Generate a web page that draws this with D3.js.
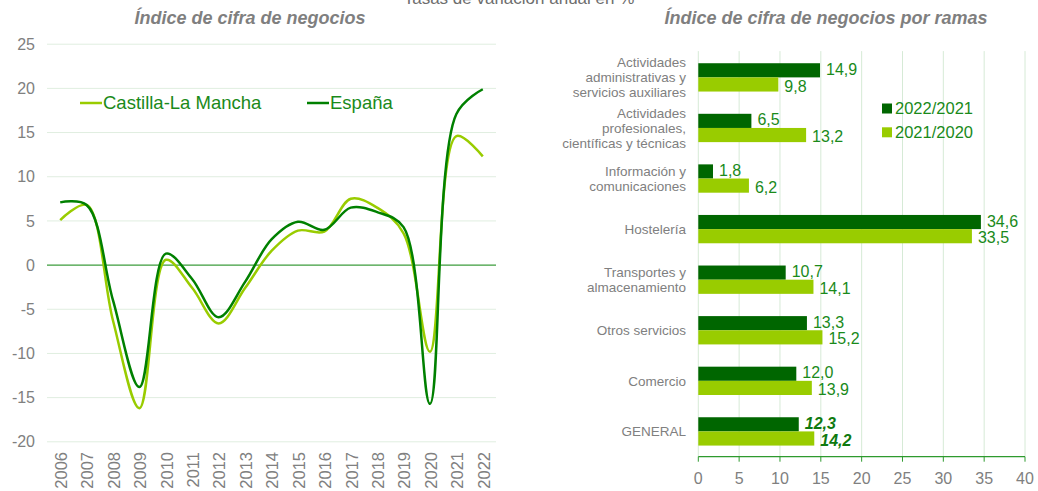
<!DOCTYPE html>
<html lang="es">
<head>
<meta charset="UTF-8">
<title>Índice de cifra de negocios</title>
<script src="https://cdnjs.cloudflare.com/ajax/libs/d3/7.8.5/d3.min.js"></script>
<style>
  body { margin: 0; background: #fff; }
  svg { display: block; font-family: "Liberation Sans", Arial, sans-serif; }
</style>
</head>
<body>
<svg id="chart" width="1038" height="491"></svg>
<script>
// ---- data ----
const years = ["2006","2007","2008","2009","2010","2011","2012","2013","2014","2015","2016","2017","2018","2019","2020","2021","2022"];
const clm    = [5.1, 6.8, -6.3, -16.2, 0.6, -2.6, -6.6, -2.6, 1.6, 3.9, 3.8, 7.5, 6.5, 3.6, -9.8, 14.6, 12.3];
const espana = [7.1, 6.8, -4.0, -13.8, 1.3, -1.6, -5.9, -1.9, 2.9, 4.9, 4.0, 6.5, 6.0, 4.3, -15.7, 17.1, 19.9];
const yTicks = [-20, -15, -10, -5, 0, 5, 10, 15, 20, 25];

const ramas = [
  ["Actividades", "administrativas y", "servicios auxiliares"],
  ["Actividades", "profesionales,", "científicas y técnicas"],
  ["Información y", "comunicaciones"],
  ["Hostelería"],
  ["Transportes y", "almacenamiento"],
  ["Otros servicios"],
  ["Comercio"],
  ["GENERAL"]
];
const v2022 = [14.9, 6.5, 1.8, 34.6, 10.7, 13.3, 12.0, 12.3];
const v2021 = [9.8, 13.2, 6.2, 33.5, 14.1, 15.2, 13.9, 14.2];
const xTicks = [0, 5, 10, 15, 20, 25, 30, 35, 40];

const dark = "#006600", light = "#99cc00", labelGreen = "#1a8a1a", grey = "#808080";
const svg = d3.select("#chart");

// top title (cut off in the original)
svg.append("text").attr("x", 519).attr("y", 4).attr("text-anchor", "middle")
  .attr("font-size", 17).attr("fill", "#6d6d6d").text("Tasas de variación anual en %");

// ---- left: line chart ----
const left = { x0: 47, x1: 496, y0: 44.2, y1: 441.8 };
const xL = d3.scaleBand().domain(years).range([left.x0, left.x1]);
const yL = d3.scaleLinear().domain([-20, 25]).range([left.y1, left.y0]);

svg.append("text").attr("x", 250).attr("y", 24).attr("text-anchor", "middle")
  .attr("font-size", 18).attr("font-weight", "bold").attr("font-style", "italic")
  .attr("fill", "#7f7f7f").text("Índice de cifra de negocios");

const gL = svg.append("g");
gL.selectAll("line.grid").data(yTicks.filter(d => d !== 0)).join("line")
  .attr("x1", left.x0).attr("x2", left.x1)
  .attr("y1", d => yL(d)).attr("y2", d => yL(d))
  .attr("stroke", "#e0eee0").attr("stroke-width", 1);
gL.append("line").attr("x1", left.x0).attr("x2", left.x1)
  .attr("y1", yL(0)).attr("y2", yL(0)).attr("stroke", "#3c9c3c").attr("stroke-width", 1.4);
gL.selectAll("text.ytick").data(yTicks).join("text")
  .attr("x", 35).attr("y", d => yL(d)).attr("dy", "0.35em").attr("text-anchor", "end")
  .attr("font-size", 16).attr("fill", grey).text(d => d);
gL.selectAll("text.xtick").data(years).join("text")
  .attr("transform", d => `translate(${xL(d) + xL.bandwidth() / 2 + 1},452) rotate(-90)`)
  .attr("dy", "0.35em").attr("text-anchor", "end")
  .attr("font-size", 16.5).attr("fill", grey).text(d => d);

const line = d3.line()
  .x((d, i) => xL(years[i]) + xL.bandwidth() / 2)
  .y(d => yL(d))
  .curve(d3.curveCatmullRom.alpha(0.5));
gL.append("path").datum(clm).attr("d", line).attr("fill", "none")
  .attr("stroke", light).attr("stroke-width", 2.5);
gL.append("path").datum(espana).attr("d", line).attr("fill", "none")
  .attr("stroke", "#008000").attr("stroke-width", 2.5);

// legend
const legL = [["Castilla-La Mancha", light, 80], ["España", "#008000", 307]];
legL.forEach(([name, col, x]) => {
  gL.append("line").attr("x1", x).attr("x2", x + 22).attr("y1", 103).attr("y2", 103)
    .attr("stroke", col).attr("stroke-width", 2.5);
  gL.append("text").attr("x", x + 23).attr("y", 103).attr("dy", "0.35em")
    .attr("font-size", 18.5).attr("fill", labelGreen).text(name);
});

// ---- right: bar chart ----
const right = { x0: 698.3, x1: 1025, y0: 52.1, y1: 456.7 };
const xR = d3.scaleLinear().domain([0, 40]).range([right.x0, right.x1]);
const yR = d3.scaleBand().domain(d3.range(ramas.length)).range([right.y0, right.y1]).paddingInner(0.44).paddingOuter(0.22);
const bh = yR.bandwidth() / 2;

svg.append("text").attr("x", 826).attr("y", 24).attr("text-anchor", "middle")
  .attr("font-size", 18).attr("font-weight", "bold").attr("font-style", "italic")
  .attr("fill", "#7f7f7f").text("Índice de cifra de negocios por ramas");

const gR = svg.append("g");
gR.selectAll("line.vgrid").data(xTicks).join("line")
  .attr("x1", d => xR(d)).attr("x2", d => xR(d))
  .attr("y1", right.y0 - 1).attr("y2", right.y1)
  .attr("stroke", "#d6ead6").attr("stroke-width", 1);

const series = [[v2022, dark, 0, -1], [v2021, light, 1, 1.5]];
series.forEach(([vals, col, k, off]) => {
  gR.selectAll(null).data(vals).join("rect")
    .attr("x", xR(0)).attr("y", (d, i) => yR(i) + k * bh)
    .attr("width", d => xR(d) - xR(0)).attr("height", bh)
    .attr("fill", col);
  gR.selectAll(null).data(vals).join("text")
    .attr("x", d => xR(d) + 6).attr("y", (d, i) => yR(i) + k * bh + bh / 2 + off)
    .attr("dy", "0.35em").attr("font-size", 16)
    .attr("fill", (d, i) => i === ramas.length - 1 ? "#0f7a0f" : labelGreen)
    .attr("font-weight", (d, i) => i === ramas.length - 1 ? "bold" : "normal")
    .attr("font-style", (d, i) => i === ramas.length - 1 ? "italic" : "normal")
    .text(d => d.toFixed(1).replace(".", ","));
});

// category labels
ramas.forEach((lines, i) => {
  const cy = yR(i) + yR.bandwidth() / 2;
  const t = gR.append("text").attr("text-anchor", "end").attr("font-size", 13.5).attr("fill", grey);
  lines.forEach((s, j) => {
    t.append("tspan").attr("x", 686)
      .attr("y", cy + (j - (lines.length - 1) / 2) * 15)
      .attr("dy", "0.35em").text(s);
  });
});

// x axis
gR.append("line").attr("x1", right.x0).attr("x2", right.x1)
  .attr("y1", right.y1).attr("y2", right.y1).attr("stroke", "#2e9a2e").attr("stroke-width", 1.2);
gR.selectAll("line.tick").data(xTicks).join("line")
  .attr("x1", d => xR(d)).attr("x2", d => xR(d))
  .attr("y1", right.y1).attr("y2", right.y1 + 5).attr("stroke", "#2e9a2e");
gR.selectAll("text.xt").data(xTicks).join("text")
  .attr("x", d => xR(d)).attr("y", 478).attr("dy", "0.35em").attr("text-anchor", "middle")
  .attr("font-size", 16).attr("fill", grey).text(d => d);

// legend
const legR = [["2022/2021", dark, 108.5], ["2021/2020", light, 132.3]];
legR.forEach(([name, col, y]) => {
  gR.append("rect").attr("x", 882).attr("y", y - 5).attr("width", 10).attr("height", 10).attr("fill", col);
  gR.append("text").attr("x", 895).attr("y", y).attr("dy", "0.35em")
    .attr("font-size", 16.5).attr("fill", labelGreen).text(name);
});
</script>
</body>
</html>
